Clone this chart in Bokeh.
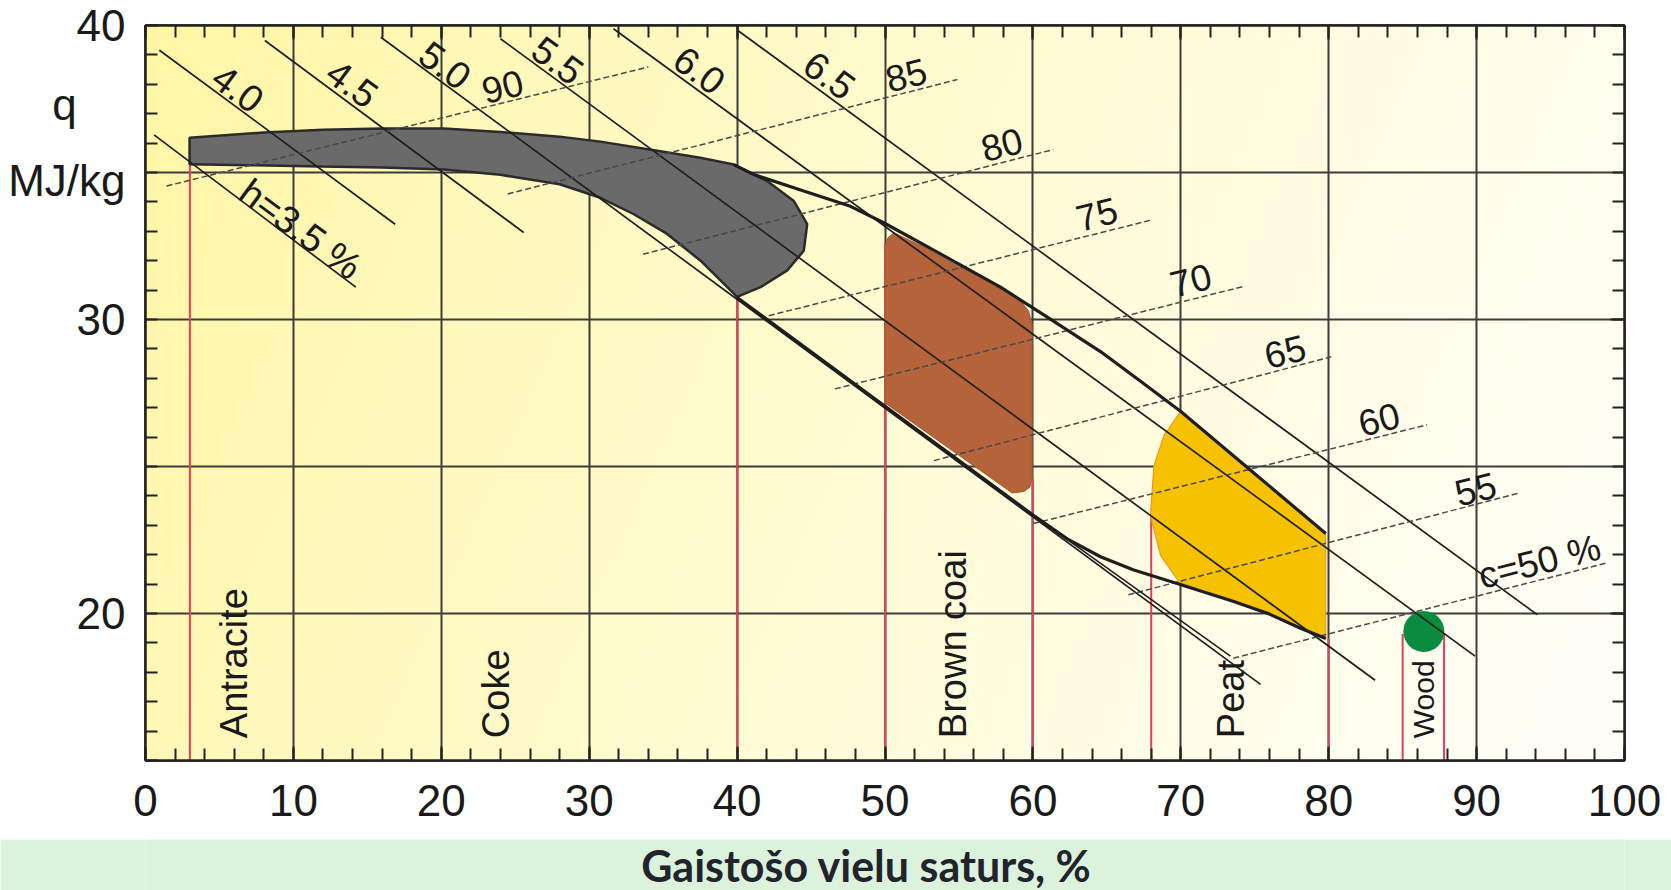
import numpy as np
from bokeh.plotting import figure
from bokeh.layouts import column
from bokeh.models import FixedTicker, LinearAxis, Range1d, ColumnDataSource
from bokeh.core.properties import value
from bokeh.embed import file_html
from bokeh.resources import INLINE

# ---------------- data ----------------
x_ticks = [0, 10, 20, 30, 40, 50, 60, 70, 80, 90, 100]
x_minor = list(range(0, 101, 2))
y_ticks = [20, 30, 40]
y_minor = list(range(15, 41))
x_grid = [10, 20, 30, 40, 50, 60, 70, 80, 90]
y_grid = [20, 25, 30, 35]
# y-axis unit text, placed at these q values beside the axis
unit_pos = [37.3, 34.74]
unit_text = ["q\u00a0\u00a0\u00a0\u00a0", "MJ/kg"]
x_title = "Gaistošo vielu saturs, %"

# hydrogen content lines (h, %)
h_text = ["h=3.5 %", "4.0", "4.5", "5.0", "5.5", "6.0", "6.5"]
h_x0 = [0.58, 0.94, 8.07, 15.91, 24.0, 31.64, 40.05]
h_y0 = [36.28, 39.16, 39.49, 39.6, 39.55, 39.89, 39.83]
h_x1 = [14.22, 16.88, 25.57, 75.39, 83.14, 89.9, 94.1]
h_y1 = [31.1, 33.24, 32.96, 17.59, 17.73, 18.55, 19.96]
h_lab_x = [10.48, 6.25, 13.98, 20.26, 27.88, 37.46, 46.25]
h_lab_y = [33.07, 37.86, 38.03, 38.65, 38.82, 38.48, 38.31]

# carbon content lines (c, %)
c_text = ["90", "85", "80", "75", "70", "65", "60", "55", "c=50 %"]
c_x0 = [1.42, 24.49, 33.64, 42.14, 46.61, 53.31, 60.04, 66.46, 73.55]
c_y0 = [34.54, 34.27, 32.22, 30.13, 27.64, 25.2, 23.06, 20.64, 18.48]
c_x1 = [34.0, 54.89, 61.38, 67.98, 74.2, 80.17, 86.66, 92.91, 98.74]
c_y1 = [38.59, 38.16, 35.78, 33.38, 31.12, 28.73, 26.42, 24.1, 21.71]
c_lab_x = [24.14, 51.43, 57.9, 64.32, 70.68, 77.05, 83.41, 89.93, 94.25]
c_lab_y = [37.92, 38.31, 35.95, 33.58, 31.33, 28.91, 26.6, 24.23, 21.76]

# fuel type boundaries and names
red_x = [3, 40, 50, 60, 68, 80, 85, 87.8]
red_top = [35.28, 30.75, 32.6, 24.6, 23.3, 19.17, 19.3, 19.3]
fuel_names = ["Antracite", "Coke", "Brown coai", "Peat", "Wood"]
fuel_x = [5.98, 23.7, 54.62, 73.4, 86.43]
fuel_y = [15.76, 15.76, 15.76, 15.76, 15.76]

# regions
gray_x = [2.98, 8.0, 12.0, 16.0, 20.17, 24.0, 28.0, 30.76, 34.82, 37.5, 39.78, 42.03,
          43.84, 44.74, 44.51, 43.39, 41.58, 40.0, 37.53, 35.27, 33.02, 30.76, 28.0,
          24.0, 20.17, 16.0, 11.89, 7.0, 2.98]
gray_y = [36.18, 36.36, 36.45, 36.5, 36.5, 36.38, 36.22, 36.05, 35.72, 35.5, 35.27, 34.71,
          34.03, 33.24, 32.34, 31.67, 31.1, 30.77, 32.0, 32.91, 33.58, 34.14, 34.6,
          34.92, 35.1, 35.17, 35.2, 35.25, 35.28]
brown_x = [50.0, 50.0, 50.2, 50.6, 52.5, 55.0, 57.5, 59.2, 59.7, 59.95, 59.95, 59.8,
           59.4, 58.6, 50.0]
brown_y = [27.16, 32.45, 32.78, 32.95, 32.5, 31.8, 31.15, 30.6, 30.3, 29.85, 24.6, 24.3,
           24.15, 24.1, 27.16]
peat_x = [69.98, 72.5, 75.0, 77.5, 79.8, 79.8, 78.09, 75.5, 73.58, 71.5, 69.87, 68.63,
          67.95, 68.18, 68.85, 69.98]
peat_y = [26.88, 25.81, 24.75, 23.7, 22.72, 19.15, 19.5, 20.05, 20.41, 20.75, 21.08,
          21.98, 23.33, 25.02, 26.04, 26.88]
wood_x = [86.43]
wood_y = [19.39]

# envelope curves
upper_x = [39.78, 41.13, 44.5, 47.67, 49.88, 53.5, 57.81, 61.0, 64.57, 67.28, 69.98, 74.8, 79.8]
upper_y = [35.27, 34.93, 34.37, 33.85, 33.3, 32.3, 31.1, 30.07, 28.91, 27.9, 26.88, 24.84, 22.72]
lower_x = [40.0, 45.0, 50.0, 55.0, 60.06, 62.32, 64.57, 66.82, 69.75, 73.58, 76.0, 78.09, 79.8]
lower_y = [30.75, 28.9, 27.05, 25.2, 23.33, 22.54, 21.93, 21.48, 21.02, 20.41, 19.98, 19.5, 19.15]
extra_x = [60.06, 73.36]
extra_y = [23.33, 18.55]

X_MIN, X_MAX, Y_MIN, Y_MAX = 0, 100, 15, 40

FIG_W = 1671
MAIN_H, BAND_H = 839, 51
LEFT, RIGHT, TOP, BOTTOM = 145, 47, 25, 79
FONT = "Liberation Sans"

# ---------------- main figure ----------------
p = figure(width=FIG_W, height=MAIN_H, x_range=Range1d(X_MIN, X_MAX), y_range=Range1d(Y_MIN, Y_MAX),
           output_backend="svg", toolbar_location=None,
           min_border_left=LEFT, min_border_right=RIGHT, min_border_top=TOP,
           min_border_bottom=BOTTOM,
           background_fill_color="#fffbd2", border_fill_color="white",
           outline_line_color="#222222", outline_line_width=2.5)

# background gradient (pale yellow to near white)
W, H = 400, 200
gx = np.linspace(0, 1, W)[None, :]
gy = np.linspace(0, 1, H)[:, None]
t = np.clip(0.82 * gx + 0.18 * (1 - gy), 0, 1)
sat = (1 - t) ** 1.2
img = np.empty((H, W), dtype=np.uint32)
view = img.view(dtype=np.uint8).reshape((H, W, 4))
view[:, :, 0] = 255
view[:, :, 1] = (255 - 9 * sat).astype(np.uint8)
view[:, :, 2] = (247 - 82 * sat).astype(np.uint8)
view[:, :, 3] = 255
p.image_rgba(image=[img], x=X_MIN, y=Y_MIN, dw=X_MAX - X_MIN, dh=Y_MAX - Y_MIN, level="image")

# axes
bottom_ax = p.below[0]
left_ax = p.left[0]
top_ax = LinearAxis()
right_ax = LinearAxis()
p.add_layout(top_ax, "above")
p.add_layout(right_ax, "right")

bottom_ax.ticker = FixedTicker(ticks=x_ticks, minor_ticks=x_minor)
top_ax.ticker = FixedTicker(ticks=x_ticks, minor_ticks=x_minor)
left_ax.ticker = FixedTicker(ticks=y_ticks + unit_pos, minor_ticks=y_minor)
right_ax.ticker = FixedTicker(ticks=y_ticks, minor_ticks=y_minor)
left_ax.major_label_overrides = dict(zip(unit_pos, unit_text))

for ax in [bottom_ax, top_ax, left_ax, right_ax]:
    ax.axis_line_color = "#222222"
    ax.axis_line_width = 2.5
    ax.major_tick_in = 14
    ax.major_tick_out = 0
    ax.minor_tick_in = 12
    ax.minor_tick_out = 0
    ax.major_tick_line_color = "#222222"
    ax.minor_tick_line_color = "#222222"
    ax.major_tick_line_width = 2
    ax.minor_tick_line_width = 2
    ax.major_label_text_font = FONT
    ax.major_label_text_font_size = "44px"
    ax.major_label_text_color = "#1a1a1a"
left_ax.major_tick_in = 0
for ax in [top_ax, right_ax]:
    ax.major_label_text_font_size = "1px"
    ax.major_label_text_alpha = 0
    ax.major_label_standoff = 0
bottom_ax.major_label_standoff = 24
left_ax.major_label_standoff = 20

p.xgrid.ticker = FixedTicker(ticks=x_grid)
p.ygrid.ticker = FixedTicker(ticks=y_grid)
for g in [p.xgrid[0], p.ygrid[0]]:
    g.grid_line_color = "#3c3c3c"
    g.grid_line_width = 2
    g.grid_line_alpha = 1

# red boundary lines
p.segment(x0=red_x, y0=[Y_MIN] * len(red_x), x1=red_x, y1=red_top,
          line_color="#e0405e", line_width=2)

# regions
p.patch(gray_x, gray_y, fill_color="#6a6a6a", line_color="#2b2b2b", line_width=2.5)
p.patch(brown_x, brown_y, fill_color="#b4633a", line_color="#a95a33", line_width=1)
p.patch(peat_x, peat_y, fill_color="#f6c200", line_color="#e89a20", line_width=1.2)
p.scatter(wood_x, wood_y, size=41, fill_color="#0a8c3f", line_color=None)

# hydrogen lines
hsrc = ColumnDataSource(dict(x0=h_x0, y0=h_y0, x1=h_x1, y1=h_y1))
p.segment(x0="x0", y0="y0", x1="x1", y1="y1", source=hsrc,
          line_color="#1e1e1e", line_width=1.7)
# carbon lines
csrc = ColumnDataSource(dict(x0=c_x0, y0=c_y0, x1=c_x1, y1=c_y1))
p.segment(x0="x0", y0="y0", x1="x1", y1="y1", source=csrc,
          line_color="#4a4a4a", line_width=1.5, line_dash="6 3")

# envelopes
p.line(upper_x, upper_y, line_color="#1e1e1e", line_width=3.2)
p.line(lower_x, lower_y, line_color="#1e1e1e", line_width=3.2)
p.line(extra_x, extra_y, line_color="#1e1e1e", line_width=1.6)

# labels on lines
frame_h = MAIN_H - TOP - BOTTOM
frame_w = FIG_W - LEFT - RIGHT
aspect = (frame_h / (Y_MAX - Y_MIN)) / (frame_w / (X_MAX - X_MIN))
h_angle = -np.arctan(0.37 * aspect)
c_angle = np.arctan(0.127 * aspect)
p.text(x=h_lab_x, y=h_lab_y, text=h_text, angle=h_angle,
       text_font=value(FONT), text_font_size=value("38px"),
       text_color="#1a1a1a", text_align="center", text_baseline="middle")
p.text(x=c_lab_x, y=c_lab_y, text=c_text, angle=c_angle,
       text_font=value(FONT), text_font_size=value("37px"),
       text_color="#1a1a1a", text_align="center", text_baseline="middle")

# fuel names (vertical)
p.text(x=fuel_x[:4], y=fuel_y[:4], text=fuel_names[:4], angle=np.pi / 2,
       text_font=value(FONT), text_font_size=value("38px"),
       text_color="#1a1a1a", text_align="left", text_baseline="middle")
p.text(x=fuel_x[4:], y=fuel_y[4:], text=fuel_names[4:], angle=np.pi / 2,
       text_font=value(FONT), text_font_size=value("30px"),
       text_color="#1a1a1a", text_align="left", text_baseline="middle")

# ---------------- bottom band with x-axis title ----------------
band = figure(width=FIG_W, height=BAND_H, x_range=p.x_range,
              y_range=Range1d(0, 1), output_backend="svg", toolbar_location=None,
              min_border=0, min_border_left=LEFT, min_border_right=RIGHT,
              background_fill_color="#dbf2dc", border_fill_color="#dbf2dc",
              outline_line_color=None)
band.axis.visible = False
band.grid.visible = False
band.text(x=[48.75], y=[0.5], text=[x_title], text_font=value("Lato"),
          text_font_style="bold", text_font_size=value("43px"), text_color="#23232d",
          text_align="center", text_baseline="middle")

layout = column(p, band, spacing=0)
open("out.html", "w").write(file_html(layout, INLINE))
